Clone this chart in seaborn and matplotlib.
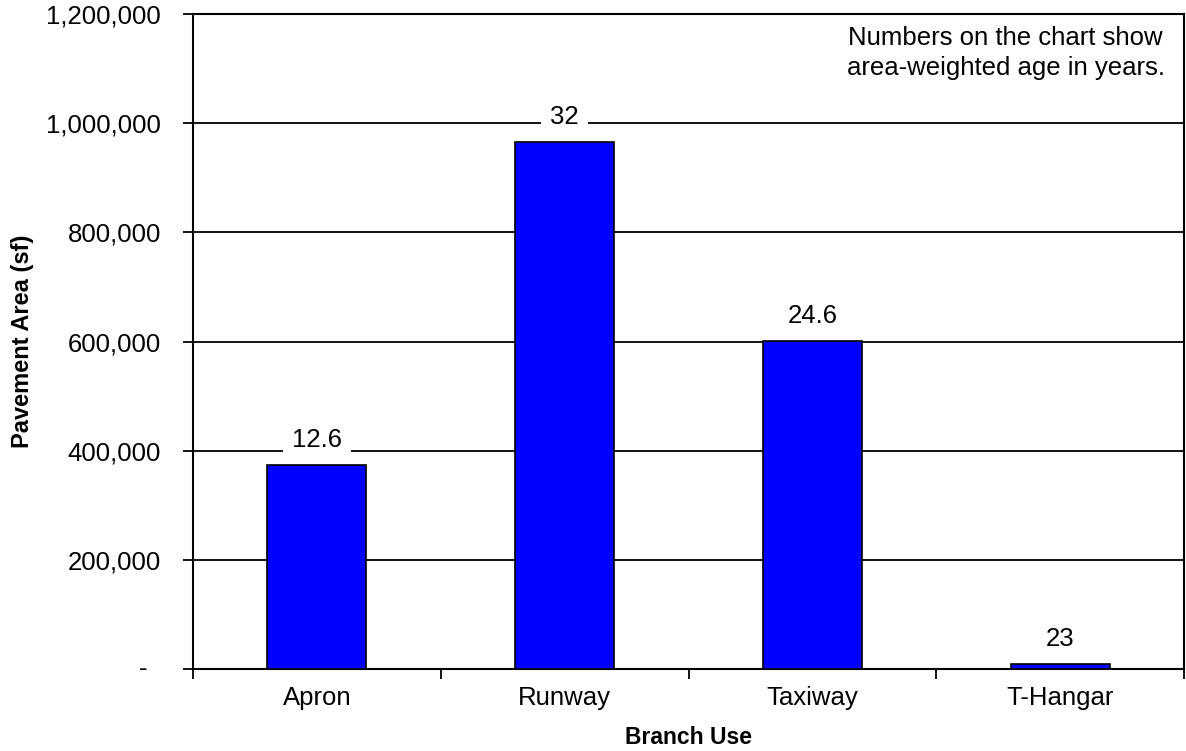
import matplotlib
matplotlib.use("Agg")
import matplotlib.pyplot as plt
import seaborn as sns
import pandas as pd
from matplotlib.ticker import FuncFormatter

categories = ["Apron", "Runway", "Taxiway", "T-Hangar"]
areas = [373000, 965000, 601000, 10000]
ages = ["12.6", "32", "24.6", "23"]
y_ticks = [0, 200000, 400000, 600000, 800000, 1000000, 1200000]

sns.set_theme(style="white")
plt.rcParams["font.family"] = ["Liberation Sans", "DejaVu Sans"]

FS = 18.5
df = pd.DataFrame({"Branch Use": categories, "Area": areas})

fig = plt.figure(figsize=(11.86, 7.51), dpi=100)
ax = fig.add_axes([193/1186, 1 - 669/751, (1184 - 193)/1186, (669 - 14)/751])

sns.barplot(data=df, x="Branch Use", y="Area", color="#0000FF", saturation=1,
            width=0.4, edgecolor="black", linewidth=1.2, ax=ax, zorder=3)

ax.set_ylim(0, 1200000)
ax.set_xlim(-0.5, len(categories) - 0.5)
ax.set_yticks(y_ticks)
ax.yaxis.set_major_formatter(FuncFormatter(lambda v, p: "" if v == 0 else f"{int(v):,}"))
ax.grid(axis="y", color="black", linewidth=1.3, zorder=0)
ax.set_axisbelow(True)

for s in ax.spines.values():
    s.set_color("black")
    s.set_linewidth(1.5)

# x ticks at category boundaries
ax.set_xticks([i - 0.5 for i in range(len(categories) + 1)], minor=True)
ax.tick_params(axis="x", which="minor", length=7, width=1.3, color="black", direction="out", bottom=True)
ax.tick_params(axis="x", which="major", length=0, labelsize=FS, pad=12, colors="black")
ax.tick_params(axis="y", length=7, width=1.3, color="black", direction="out", left=True,
               labelsize=FS, pad=16, labelcolor="black")

ax.text(-0.05, 0, "-", transform=ax.get_yaxis_transform(), ha="center", va="center",
        fontsize=FS, color="black")

for i, (a, lab) in enumerate(zip(areas, ages)):
    ax.annotate(lab, xy=(i, a), xytext=(0, 18), textcoords="offset points",
                ha="center", va="center", fontsize=FS, color="black",
                bbox=dict(boxstyle="square,pad=0.35", fc="white", ec="none"), zorder=4)

ax.text(0.82, 0.94, "Numbers on the chart show\narea-weighted age in years.",
        transform=ax.transAxes, ha="center", va="center", fontsize=FS,
        color="black", linespacing=1.32,
        bbox=dict(boxstyle="square,pad=0.3", fc="white", ec="none"), zorder=4)

ax.set_xlabel("Branch Use", fontsize=16.5, fontweight="bold", color="black", labelpad=12)
ax.set_ylabel("Pavement Area (sf)", fontsize=17, fontweight="bold", color="black", labelpad=9)

fig.savefig("out.png", dpi=100)
